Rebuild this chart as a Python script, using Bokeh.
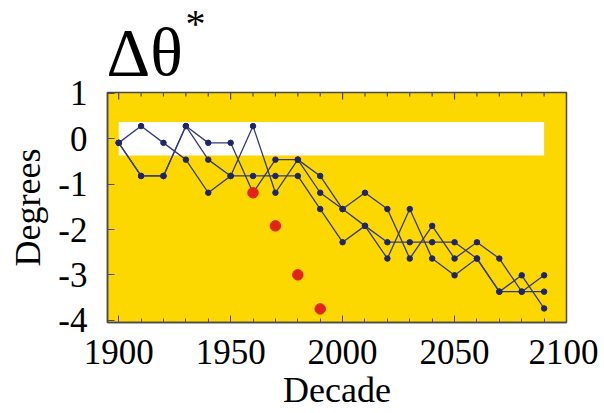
from bokeh.plotting import figure
from bokeh.models import Range1d, SingleIntervalTicker, Title
from bokeh.embed import file_html
from bokeh.resources import INLINE

# ---- data ----
decades = [1900, 1910, 1920, 1930, 1940, 1950, 1960, 1970, 1980, 1990,
           2000, 2010, 2020, 2030, 2040, 2050, 2060, 2070, 2080, 2090]
series_a = [-0.09, 0.28, -0.09, -0.46, -1.19, -0.82, -0.82, -0.82, -0.82, -1.55,
            -2.28, -1.92, -2.28, -2.28, -2.28, -2.28, -2.64, -3.37, -3.37, -3.37]
series_b = [-0.09, -0.82, -0.82, 0.28, -0.09, -0.09, -1.19, -0.46, -0.46, -0.82,
            -1.55, -1.19, -1.55, -2.64, -1.92, -2.64, -2.28, -2.64, -3.37, -3.01]
series_c = [-0.09, -0.82, -0.82, 0.28, -0.46, -0.82, 0.28, -1.19, -0.46, -1.19,
            -1.55, -1.92, -2.64, -1.55, -2.64, -3.01, -2.64, -3.37, -3.01, -3.74]
obs_decades = [1960, 1970, 1980, 1990]
obs_values = [-1.19, -1.92, -3.0, -3.75]
band_left, band_right = 1900, 2090
band_bottom, band_top = -0.37, 0.37
y_ticks = [1, 0, -1, -2, -3, -4]
y_tick_labels = ["1", "0", "-1", "-2", "-3", "-4"]
top_tick_years = list(range(1900, 2101, 10))

FONT = "Liberation Serif"
YELLOW = "#FCD700"
NAVY_LINE = "#34397E"
NAVY_DOT = "#1E2568"
RED = "#E2231A"
FRAME = "#4a4a4a"

X0, X1 = 1895, 2100
Y0, Y1 = -4.05, 1.02

p = figure(frame_width=459, frame_height=230,
           x_range=Range1d(X0, X1), y_range=Range1d(Y0, Y1),
           output_backend="svg", toolbar_location=None,
           min_border_left=107, min_border_right=32,
           min_border_top=92, min_border_bottom=88,
           x_axis_label="Decade", y_axis_label="Degrees")

p.background_fill_color = YELLOW
p.border_fill_color = "white"
p.outline_line_color = FRAME
p.outline_line_width = 1.5
p.xgrid.visible = False
p.ygrid.visible = False

p.xaxis.ticker = SingleIntervalTicker(interval=50, num_minor_ticks=5)
p.yaxis.ticker = y_ticks
p.yaxis.major_label_overrides = dict(zip(y_ticks, y_tick_labels))

for ax in (p.xaxis[0], p.yaxis[0]):
    ax.axis_line_color = FRAME
    ax.axis_line_width = 1.5
    ax.major_tick_line_color = FRAME
    ax.minor_tick_line_color = FRAME
    ax.major_tick_in = 7
    ax.major_tick_out = 0
    ax.minor_tick_in = 4
    ax.minor_tick_out = 0
    ax.major_label_text_font = FONT
    ax.major_label_text_font_size = "35px"
    ax.major_label_text_color = "black"
    ax.axis_label_text_font = FONT
    ax.axis_label_text_font_size = "36px"
    ax.axis_label_text_font_style = "normal"
    ax.axis_label_text_color = "black"

p.yaxis.minor_tick_line_color = None
p.xaxis.major_label_standoff = 17
p.xaxis.axis_label_standoff = 3
p.yaxis.major_label_standoff = 20
p.yaxis.axis_label_standoff = 7

# white band
p.quad(left=[band_left], right=[band_right], bottom=[band_bottom], top=[band_top],
       fill_color="white", line_color=None)

# inward ticks along the top edge
px_per_unit = 230 / (Y1 - Y0)
major_len = 7 / px_per_unit
minor_len = 4 / px_per_unit
tick_len = [major_len if yr % 50 == 0 else minor_len for yr in top_tick_years]
p.segment(x0=top_tick_years, y0=[Y1] * len(top_tick_years),
          x1=top_tick_years, y1=[Y1 - L for L in tick_len],
          line_color=FRAME, line_width=1.2)

# projection series
for ys in (series_a, series_b, series_c):
    p.line(decades, ys, line_color=NAVY_LINE, line_width=1.3)
    p.scatter(decades, ys, size=5.5, fill_color=NAVY_DOT, line_color=NAVY_DOT)

# observed
p.scatter(obs_decades, obs_values, size=10.5, fill_color=RED, line_color=RED)

# title  Δθ*  (two stacked titles: the asterisk sits above as a superscript)
p.title.text = ""
p.add_layout(Title(text="Δθ", text_font=FONT, text_font_size="68px",
                   text_font_style="normal", text_color="black",
                   align="left", offset=-1, standoff=6), "above")
p.add_layout(Title(text="*", text_font=FONT, text_font_size="40px",
                   text_font_style="normal", text_color="black",
                   align="left", offset=78, standoff=-74), "above")

open("out.html", "w").write(file_html(p, INLINE))
